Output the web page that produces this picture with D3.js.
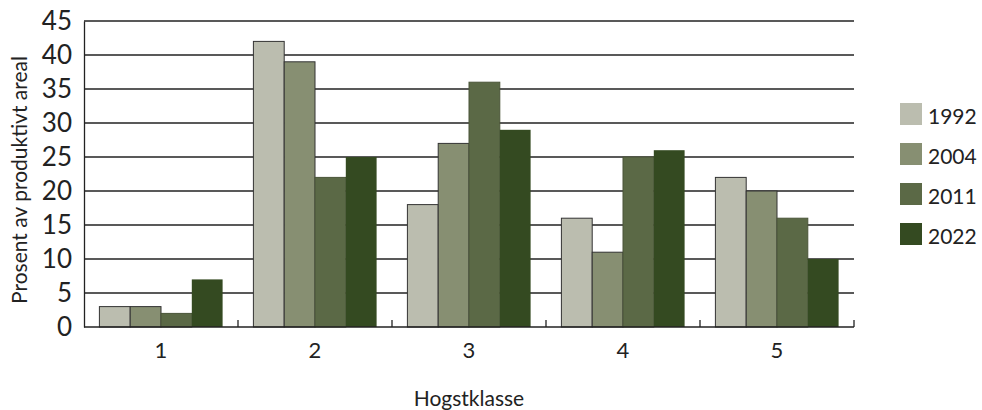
<!DOCTYPE html>
<html><head><meta charset="utf-8">
<script src="https://cdn.jsdelivr.net/npm/d3@7/dist/d3.min.js"></script>
<style>body{margin:0;background:#fff;} text{font-family:"Lato","DejaVu Sans",sans-serif;fill:#222;}</style>
</head><body><svg id="c" width="982" height="410"></svg>
<script>
const categories = ["1","2","3","4","5"];
const seriesNames = ["1992","2004","2011","2022"];
const v1992 = [3,42,18,16,22];
const v2004 = [3,39,27,11,20];
const v2011 = [2,22,36,25,16];
const v2022 = [7,25,29,26,10];
const yTicks = [0,5,10,15,20,25,30,35,40,45];
const seriesValues = [v1992, v2004, v2011, v2022];
const colors = ["#bbbdaf","#878f72","#5b6946","#344a21"];
const strokes = ["#333","#333","#4a5538","none"];

const svg = d3.select("#c");
const L = 84, R = 854, T = 21, B = 327;
const x0 = d3.scaleBand().domain(categories).range([L, R]).padding(0);
const x1 = d3.scaleBand().domain(seriesNames).range([0, x0.bandwidth()]).paddingInner(0).paddingOuter(0.5);
const y = d3.scaleLinear().domain([0,45]).range([B, T]);

// gridlines
svg.append("g").selectAll("line").data(yTicks.filter(t=>t>0)).join("line")
  .attr("x1", L).attr("x2", R).attr("y1", d=>y(d)).attr("y2", d=>y(d))
  .attr("stroke", "#222").attr("stroke-width", 1.3);

// bars
const g = svg.append("g");
categories.forEach((c, ci) => {
  seriesNames.forEach((s, si) => {
    const val = seriesValues[si][ci];
    g.append("rect")
      .attr("x", x0(c) + x1(s))
      .attr("y", y(val))
      .attr("width", x1.bandwidth())
      .attr("height", y(0) - y(val))
      .attr("fill", colors[si])
      .attr("stroke", strokes[si])
      .attr("stroke-width", 1);
  });
});

// y axis
const ya = svg.append("g").attr("transform", `translate(${L},0)`)
  .call(d3.axisLeft(y).tickValues(yTicks).tickSize(0).tickPadding(12));
ya.select(".domain").attr("stroke", "#222").attr("stroke-width", 1.3);
ya.selectAll("text").style("font-size", "26px").style("font-family", "Lato, DejaVu Sans, sans-serif").attr("fill", "#222");

// x axis baseline
svg.append("line").attr("x1", L).attr("x2", R).attr("y1", B).attr("y2", B)
  .attr("stroke", "#222").attr("stroke-width", 1.3);
// category boundary ticks
const bounds = categories.map(c => x0(c)).concat([R]).slice(1);
svg.append("g").selectAll("line").data(bounds).join("line")
  .attr("x1", d=>d).attr("x2", d=>d).attr("y1", B).attr("y2", B-7)
  .attr("stroke", "#222").attr("stroke-width", 1.3);
// x tick labels
svg.append("g").selectAll("text").data(categories).join("text")
  .attr("x", d => x0(d) + x0.bandwidth()/2).attr("y", 358)
  .attr("text-anchor", "middle").style("font-size", "22px").text(d=>d);

// axis titles
svg.append("text").attr("x", 469).attr("y", 406).attr("text-anchor","middle")
  .style("font-size","21px").text("Hogstklasse");
svg.append("text").attr("transform", `translate(27,180) rotate(-90)`)
  .attr("text-anchor","middle").style("font-size","21px").text("Prosent av produktivt areal");

// legend
const lg = svg.append("g");
seriesNames.forEach((s, i) => {
  const yy = 103 + i*40;
  lg.append("rect").attr("x", 900).attr("y", yy).attr("width", 22).attr("height", 22).attr("fill", colors[i]);
  lg.append("text").attr("x", 928).attr("y", yy + 21).style("font-size", "21px").text(s);
});
</script></body></html>
